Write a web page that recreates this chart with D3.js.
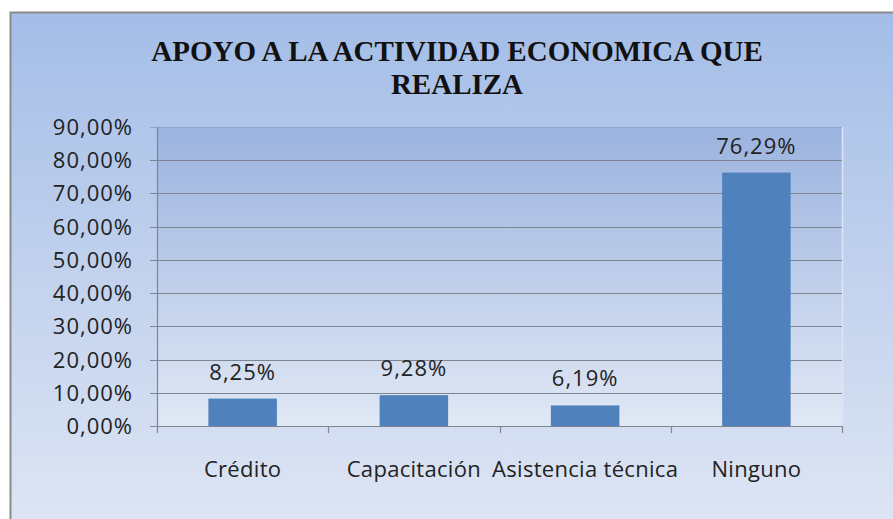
<!DOCTYPE html>
<html lang="es">
<head>
<meta charset="UTF-8">
<title>Apoyo a la actividad economica que realiza</title>
<script src="https://d3js.org/d3.v7.min.js"></script>
<style>
  body { margin: 0; background: #fff; }
  .lbl { font-family: "Open Sans", sans-serif; font-size: 22px; fill: #222; letter-spacing: 1px; }
  .cat { font-family: "Open Sans", sans-serif; font-size: 22px; fill: #222; letter-spacing: 0.3px; }
</style>
</head>
<body>
<svg width="893" height="519"></svg>
<script>
const categories = ["Crédito", "Capacitación", "Asistencia técnica", "Ninguno"];
const values = [8.25, 9.28, 6.19, 76.29];
const yTicks = [0, 10, 20, 30, 40, 50, 60, 70, 80, 90];
const titleLines = ["APOYO A LA ACTIVIDAD ECONOMICA QUE", "REALIZA"];

const svg = d3.select("svg");
const fmt = v => v.toFixed(2).replace(".", ",") + "%";

const defs = svg.append("defs");
const g1 = defs.append("linearGradient").attr("id", "bgGrad").attr("x1", 0).attr("y1", 0).attr("x2", 0).attr("y2", 1);
g1.append("stop").attr("offset", "0%").attr("stop-color", "#a4bde7");
g1.append("stop").attr("offset", "100%").attr("stop-color", "#dfe6f4");
const g2 = defs.append("linearGradient").attr("id", "plotGrad").attr("x1", 0).attr("y1", 0).attr("x2", 0).attr("y2", 1);
g2.append("stop").attr("offset", "0%").attr("stop-color", "#9bb3df");
g2.append("stop").attr("offset", "100%").attr("stop-color", "#e1e8f5");

// chart area
svg.append("rect")
  .attr("x", 10.5).attr("y", 12.5).attr("width", 895).attr("height", 520)
  .attr("fill", "url(#bgGrad)").attr("stroke", "#8a8a8a").attr("stroke-width", 2);

// title
svg.selectAll(".ttl").data(titleLines).join("text")
  .attr("class", "ttl")
  .style("font-family", "'Liberation Serif', serif")
  .style("font-weight", "bold")
  .style("font-size", "29px")
  .style("fill", "#111")
  .attr("x", 457).attr("y", (d, i) => 61 + i * 33)
  .attr("text-anchor", "middle")
  .text(d => d);

const pLeft = 157, pRight = 842, pTop = 127, pBottom = 426;

const x = d3.scaleBand().domain(categories).range([pLeft, pRight]).paddingInner(0.6).paddingOuter(0.3);
const xb = d3.scaleBand().domain(categories).range([pLeft, pRight]);
const y = d3.scaleLinear().domain([0, 90]).range([pBottom, pTop]);

// plot area
svg.append("rect")
  .attr("x", pLeft).attr("y", pTop).attr("width", pRight - pLeft).attr("height", pBottom - pTop)
  .attr("fill", "url(#plotGrad)");
svg.append("line")
  .attr("x1", pRight + 0.5).attr("x2", pRight + 0.5).attr("y1", pTop).attr("y2", pBottom)
  .attr("stroke", "#dbe5f7").attr("stroke-width", 1.5);

// gridlines + y ticks
svg.selectAll(".grid").data(yTicks).join("line")
  .attr("x1", pLeft - 7).attr("x2", pRight)
  .attr("y1", d => Math.round(y(d)) + 0.5).attr("y2", d => Math.round(y(d)) + 0.5)
  .attr("stroke", d => d === 90 ? "#8fa5cf" : "#7f8590").attr("stroke-width", 1.2);

// y axis line
svg.append("line")
  .attr("x1", pLeft + 0.5).attr("x2", pLeft + 0.5).attr("y1", pTop).attr("y2", pBottom + 1)
  .attr("stroke", "#7f8590").attr("stroke-width", 1.2);

// x axis ticks
const bounds = categories.map(c => xb(c)).concat([pRight]);
svg.selectAll(".xt").data(bounds).join("line")
  .attr("x1", d => Math.round(d) + 0.5).attr("x2", d => Math.round(d) + 0.5)
  .attr("y1", pBottom).attr("y2", pBottom + 7)
  .attr("stroke", "#7f8590").attr("stroke-width", 1.2);

// y labels
svg.selectAll(".ylab").data(yTicks).join("text")
  .attr("class", "lbl")
  .attr("x", 133).attr("y", d => y(d) + 8)
  .attr("text-anchor", "end")
  .text(d => fmt(d));

// bars
svg.selectAll(".bar").data(values).join("rect")
  .attr("x", (d, i) => x(categories[i]))
  .attr("width", x.bandwidth())
  .attr("y", d => y(d))
  .attr("height", d => pBottom - y(d))
  .attr("fill", "#4f81bd");

// value labels
svg.selectAll(".vlab").data(values).join("text")
  .attr("class", "lbl")
  .attr("x", (d, i) => x(categories[i]) + x.bandwidth() / 2)
  .attr("y", d => y(d) - 19)
  .attr("text-anchor", "middle")
  .text(d => fmt(d));

// category labels
svg.selectAll(".clab").data(categories).join("text")
  .attr("class", "cat")
  .attr("x", d => xb(d) + xb.bandwidth() / 2)
  .attr("y", 477)
  .attr("text-anchor", "middle")
  .text(d => d);
</script>
</body>
</html>
